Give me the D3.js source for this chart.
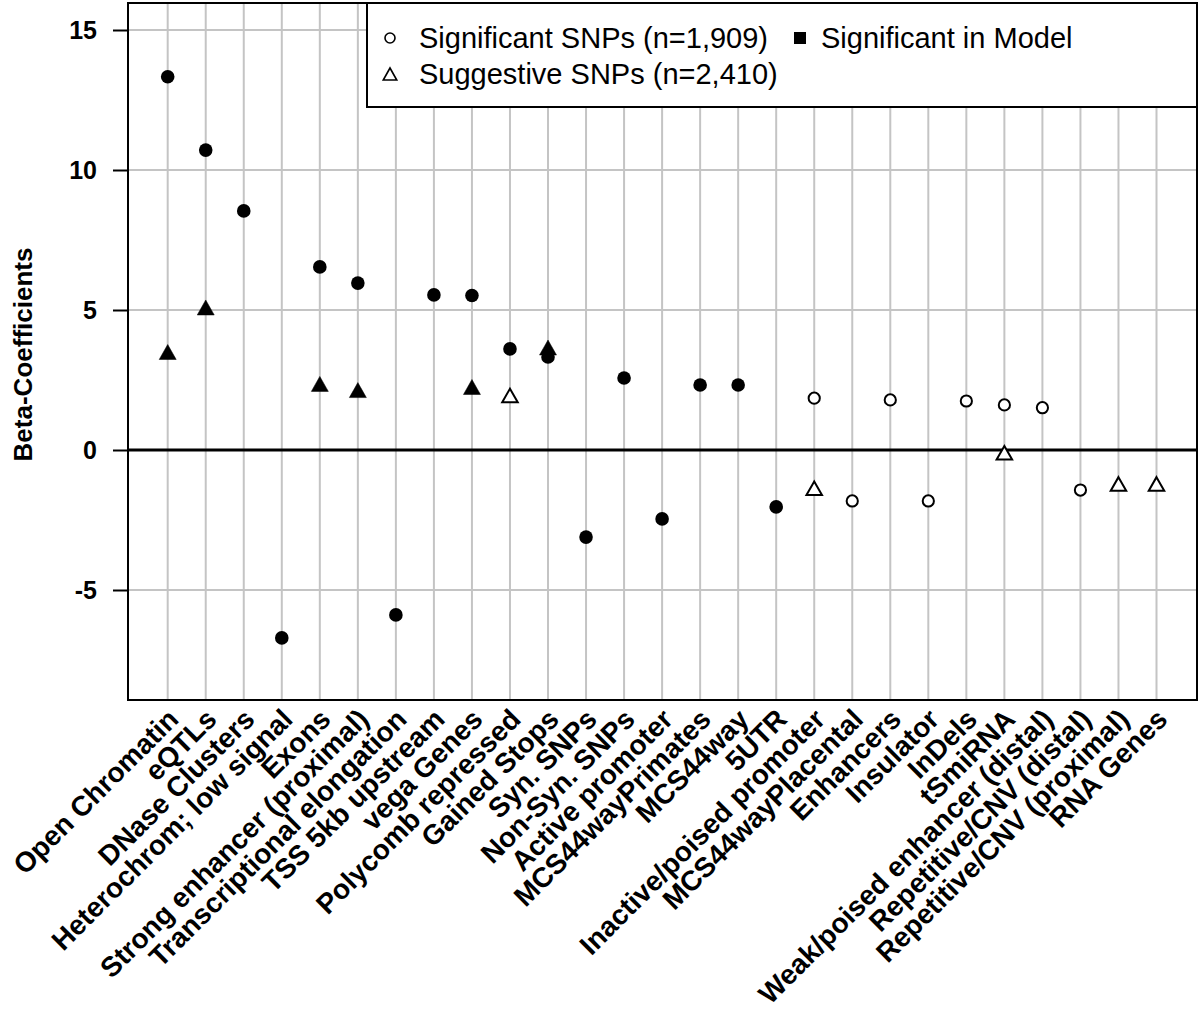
<!DOCTYPE html>
<html>
<head>
<meta charset="utf-8">
<script src="https://cdn.jsdelivr.net/npm/d3@7"></script>
<style>
  html, body { margin: 0; padding: 0; background: #fff; }
  svg { display: block; font-family: "Liberation Sans", Arial, Helvetica, sans-serif; }
</style>
</head>
<body>
<svg id="chart" width="1200" height="1015"></svg>
<script>
// ---------------- DATA ----------------
const categories = [
  "Open Chromatin", "eQTLs", "DNase Clusters", "Heterochrom; low signal", "Exons",
  "Strong enhancer (proximal)", "Transcriptional elongation", "TSS 5kb upstream", "vega Genes",
  "Polycomb repressed", "Gained Stops", "Syn. SNPs", "Non-Syn. SNPs", "Active promoter",
  "MCS44wayPrimates", "MCS44way", "5UTR", "Inactive/poised promoter", "MCS44wayPlacental",
  "Enhancers", "Insulator", "InDels", "tSmiRNA", "Weak/poised enhancer (distal)",
  "Repetitive/CNV (distal)", "Repetitive/CNV (proximal)", "RNA Genes"
];
// Significant SNPs (circles)
const significantValues = [
  13.33, 10.71, 8.54, -6.71, 6.54, 5.96, -5.89, 5.54, 5.52, 3.61, 3.32, -3.11, 2.57, -2.46,
  2.32, 2.32, -2.03, 1.85, -1.82, 1.79, -1.82, 1.75, 1.61, 1.51, -1.43, null, null
];
const significantInModel = [
  true, true, true, true, true, true, true, true, true, true, true, true, true, true,
  true, true, true, false, false, false, false, false, false, false, false, false, false
];
// Suggestive SNPs (triangles)
const suggestiveValues = [
  3.50, 5.09, null, null, 2.36, 2.14, null, null, 2.25, 1.95, 3.66, null, null, null,
  null, null, null, -1.37, null, null, null, null, -0.10, null, null, -1.21, -1.21
];
const suggestiveInModel = [
  true, true, false, false, true, true, false, false, true, false, true, false, false, false,
  false, false, false, false, false, false, false, false, false, false, false, false, false
];
const yTicks = [-5, 0, 5, 10, 15];
const yTitle = "Beta-Coefficients";
const legendItems = [
  { label: "Significant SNPs (n=1,909)", shape: "circle" },
  { label: "Significant in Model", shape: "square" },
  { label: "Suggestive SNPs (n=2,410)", shape: "triangle" }
];

// ---------------- LAYOUT ----------------
const plot = { left: 128, right: 1197, top: 3, bottom: 700 };
const svg = d3.select("#chart");

const x = d3.scalePoint().domain(categories).range([167.7, 1156.5]);
const y = d3.scaleLinear().domain([-250 / 28, 447 / 28]).range([plot.bottom, plot.top]);

const gridColor = "#c4c4c4";

// vertical gridlines
svg.append("g").selectAll("line").data(categories).join("line")
  .attr("x1", d => x(d)).attr("x2", d => x(d))
  .attr("y1", plot.top).attr("y2", plot.bottom)
  .attr("stroke", gridColor).attr("stroke-width", 2);

// horizontal gridlines
svg.append("g").selectAll("line").data(yTicks.filter(t => t !== 0)).join("line")
  .attr("x1", plot.left).attr("x2", plot.right)
  .attr("y1", d => y(d)).attr("y2", d => y(d))
  .attr("stroke", gridColor).attr("stroke-width", 2);

// zero line
svg.append("line")
  .attr("x1", plot.left).attr("x2", plot.right)
  .attr("y1", y(0)).attr("y2", y(0))
  .attr("stroke", "#000").attr("stroke-width", 3.2);

// y axis
const yAxis = svg.append("g")
  .attr("transform", `translate(${plot.left},0)`)
  .call(d3.axisLeft(y).tickValues(yTicks).tickSize(15).tickPadding(16).tickSizeOuter(0).tickFormat(d => String(d)));
yAxis.select(".domain").remove();
yAxis.selectAll(".tick line").attr("stroke", "#000").attr("stroke-width", 2);
yAxis.selectAll(".tick text")
  .attr("font-size", 25).attr("font-weight", "bold").attr("fill", "#000")
  .attr("font-family", "'Liberation Sans', Arial, sans-serif");

// y title
svg.append("text")
  .attr("transform", `translate(32,${(plot.top + plot.bottom) / 2 + 3}) rotate(-90)`)
  .attr("text-anchor", "middle")
  .attr("font-size", 26).attr("font-weight", "bold")
  .text(yTitle);

// x category labels via axis
const xAxis = svg.append("g")
  .attr("transform", `translate(0,${plot.bottom})`)
  .call(d3.axisBottom(x).tickSize(0).tickSizeOuter(0));
xAxis.select(".domain").remove();
xAxis.selectAll(".tick text")
  .attr("x", 0).attr("y", 0).attr("dy", "0.35em")
  .attr("transform", "translate(5,14) rotate(-45)")
  .attr("text-anchor", "end")
  .attr("font-size", 28).attr("font-weight", "bold").attr("fill", "#000")
  .attr("font-family", "'Liberation Sans', Arial, sans-serif");

// plot border
svg.append("rect")
  .attr("x", plot.left).attr("y", plot.top)
  .attr("width", plot.right - plot.left).attr("height", plot.bottom - plot.top)
  .attr("fill", "none").attr("stroke", "#000").attr("stroke-width", 2);

// symbols
function triPath(w, h) {
  return `M0,${-h / 2}L${w / 2},${h / 2}L${-w / 2},${h / 2}Z`;
}

const sigData = categories.map((c, i) => ({ c, v: significantValues[i], f: significantInModel[i] }))
  .filter(d => d.v !== null);
const sugData = categories.map((c, i) => ({ c, v: suggestiveValues[i], f: suggestiveInModel[i] }))
  .filter(d => d.v !== null);

svg.append("g").selectAll("path").data(sugData).join("path")
  .attr("d", d => d.f ? triPath(17, 15) : triPath(15.5, 13.5))
  .attr("transform", d => `translate(${x(d.c)},${y(d.v)})`)
  .attr("fill", d => d.f ? "#000" : "#fff")
  .attr("stroke", "#000")
  .attr("stroke-width", d => d.f ? 0.5 : 2)
  .attr("stroke-linejoin", "miter");

svg.append("g").selectAll("circle").data(sigData).join("circle")
  .attr("cx", d => x(d.c)).attr("cy", d => y(d.v))
  .attr("r", d => d.f ? 6.8 : 5.6)
  .attr("fill", d => d.f ? "#000" : "#fff")
  .attr("stroke", "#000")
  .attr("stroke-width", d => d.f ? 0 : 2);

// legend
const lg = svg.append("g");
lg.append("rect")
  .attr("x", 367).attr("y", plot.top)
  .attr("width", plot.right - 367).attr("height", 104)
  .attr("fill", "#fff").attr("stroke", "#000").attr("stroke-width", 2);

const legendPos = [
  { sx: 390, tx: 419, yy: 38 },
  { sx: 800, tx: 821, yy: 38 },
  { sx: 390, tx: 419, yy: 74 }
];
legendItems.forEach((it, i) => {
  const p = legendPos[i];
  if (it.shape === "circle") {
    lg.append("circle").attr("cx", p.sx).attr("cy", p.yy).attr("r", 5)
      .attr("fill", "none").attr("stroke", "#000").attr("stroke-width", 1.6);
  } else if (it.shape === "square") {
    lg.append("rect").attr("x", p.sx - 6).attr("y", p.yy - 6).attr("width", 12).attr("height", 12)
      .attr("fill", "#000");
  } else {
    lg.append("path").attr("d", triPath(13.5, 12))
      .attr("transform", `translate(${p.sx},${p.yy})`)
      .attr("fill", "none").attr("stroke", "#000").attr("stroke-width", 1.6);
  }
  lg.append("text").attr("x", p.tx).attr("y", p.yy).attr("dy", "0.35em")
    .attr("font-size", 29).attr("fill", "#000")
    .text(it.label);
});
</script>
</body>
</html>
